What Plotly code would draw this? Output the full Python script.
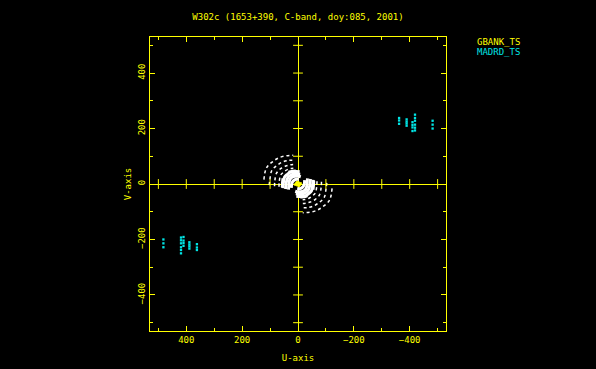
import plotly.graph_objects as go

TITLE = "W302c (1653+390, C-band, doy:085, 2001)"
X_LABEL = "U-axis"
Y_LABEL = "V-axis"
AX_RANGE = 530
MAJOR_TICKS = [-400, -200, 0, 200, 400]
ZERO_LINE_TICKS = [-500, -400, -300, -200, -100, 100, 200, 300, 400, 500]

# Dotted outer arcs of ground baselines (u, v), conjugates added by sign flip
arc1_u = [122, 113, 89, 65, 41, 17]
arc1_v = [16, 58, 82, 96, 102, 104]
arc2_u = [103, 101, 94, 74, 54, 34, 14]
arc2_v = [-4, 13, 48, 68, 80, 85, 86]
arc3_u = [84, 83, 77, 61, 44, 28, 12]
arc3_v = [-8, 11, 39, 56, 65, 69, 71]
arc4_u = [68, 67, 62, 49, 36, 23, 9]
arc4_v = [-10, 9, 32, 45, 53, 56, 57]
# Dashed arc
arc5_u = [58, 57, 53, 42, 31, 19, 8]
arc5_v = [-12, 8, 27, 39, 45, 48, 49]
# Dense inner arcs
core1_u = [55, 52, 48, 38, 28, 18, 6, -6]
core1_v = [-15, 6, 25, 35, 42, 44, 45, 44]
core2_u = [45, 42, 38, 30, 22, 14, 4, -8]
core2_v = [-18, 5, 20, 29, 34, 36, 36, 35]
core3_u = [34, 32, 29, 23, 16, 8, -2, -10]
core3_v = [-20, 4, 16, 23, 27, 28, 28, 26]
core4_u = [24, 22, 18, 12, 5, -3]
core4_v = [-14, 2, 10, 15, 17, 17]

# GBANK_TS points near origin
gbank_u = [5, 9, 3, -2, 7]
gbank_v = [3, -2, 6, 4, 0]

# MADRD_TS points (one half; conjugates added)
madrd_u = [-362, -362, -362,
           -389, -389, -389, -389,
           -410, -410, -410, -410,
           -419, -419, -419, -419, -419, -419,
           -482, -482, -482]
madrd_v = [238, 229, 217,
           233, 225, 218, 210,
           223, 213, 204, 191,
           250, 238, 228, 214, 203, 193,
           228, 214, 200]

YELLOW = "#ffff00"
CYAN = "#00e5e5"
FONT = "DejaVu Sans Mono"
FS = 9

fig = go.Figure()

dotted_arcs = [(arc1_u, arc1_v), (arc2_u, arc2_v), (arc3_u, arc3_v),
               (arc4_u, arc4_v)]
core_arcs = [(core1_u, core1_v), (core2_u, core2_v), (core3_u, core3_v),
             (core4_u, core4_v)]

for us, vs in dotted_arcs:
    for sgn in (1, -1):
        fig.add_trace(go.Scatter(
            x=[sgn * u for u in us], y=[sgn * v for v in vs], mode="lines",
            line=dict(color="white", width=1.5, dash="dot", shape="spline"),
            showlegend=False, hoverinfo="skip"))
for sgn in (1, -1):
    fig.add_trace(go.Scatter(
        x=[sgn * u for u in arc5_u], y=[sgn * v for v in arc5_v], mode="lines",
        line=dict(color="white", width=2, dash="dash", shape="spline"),
        showlegend=False, hoverinfo="skip"))
for us, vs in core_arcs:
    for sgn in (1, -1):
        fig.add_trace(go.Scatter(
            x=[sgn * u for u in us], y=[sgn * v for v in vs], mode="lines",
            line=dict(color="white", width=3, shape="spline"),
            showlegend=False, hoverinfo="skip"))

fig.add_trace(go.Scatter(
    x=madrd_u + [-u for u in madrd_u], y=madrd_v + [-v for v in madrd_v],
    mode="markers", marker=dict(color=CYAN, size=2.3, symbol="square",
                                line=dict(width=0)),
    showlegend=False, hoverinfo="skip"))

fig.add_trace(go.Scatter(
    x=gbank_u + [-u for u in gbank_u], y=gbank_v + [-v for v in gbank_v],
    mode="markers", marker=dict(color=YELLOW, size=2.5, symbol="square",
                                line=dict(width=0)),
    showlegend=False, hoverinfo="skip"))

# small ticks on the zero lines
fig.add_trace(go.Scatter(
    x=ZERO_LINE_TICKS, y=[0] * len(ZERO_LINE_TICKS), mode="markers",
    marker=dict(symbol="line-ns", size=7, line=dict(color=YELLOW, width=1)),
    showlegend=False, hoverinfo="skip"))
fig.add_trace(go.Scatter(
    x=[0] * len(ZERO_LINE_TICKS), y=ZERO_LINE_TICKS, mode="markers",
    marker=dict(symbol="line-ew", size=7, line=dict(color=YELLOW, width=1)),
    showlegend=False, hoverinfo="skip"))

axis_common = dict(
    showgrid=False, zeroline=True, zerolinecolor=YELLOW, zerolinewidth=1,
    showline=True, linecolor=YELLOW, linewidth=1, mirror="ticks",
    ticks="inside", ticklen=5, tickcolor=YELLOW, tickwidth=1,
    tickvals=MAJOR_TICKS, automargin=False,
    minor=dict(ticks="inside", ticklen=3, tickcolor=YELLOW, dtick=100,
               tick0=0, showgrid=False),
    tickfont=dict(family=FONT, size=FS, color=YELLOW),
    title_font=dict(family=FONT, size=FS, color=YELLOW),
)

fig.update_xaxes(range=[AX_RANGE, -AX_RANGE], title_text=X_LABEL,
                 title_standoff=10, ticklabelstandoff=0, **axis_common)
fig.update_yaxes(range=[-AX_RANGE, AX_RANGE], title_text=Y_LABEL,
                 tickangle=-90, title_standoff=4, **axis_common)

fig.update_layout(
    width=596, height=369, autosize=False,
    paper_bgcolor="black", plot_bgcolor="black",
    margin=dict(l=150, r=150, t=37, b=38),
    title=dict(text=TITLE, x=0.5, xanchor="center", y=1 - 16.5 / 369,
               yanchor="middle", font=dict(family=FONT, size=FS, color=YELLOW),
               automargin=False),
    annotations=[
        dict(text="GBANK_TS", xref="paper", yref="paper", x=1.098, y=0.984,
             xanchor="left", yanchor="middle", showarrow=False,
             font=dict(family=FONT, size=FS, color=YELLOW)),
        dict(text="MADRD_TS", xref="paper", yref="paper", x=1.098, y=0.948,
             xanchor="left", yanchor="middle", showarrow=False,
             font=dict(family=FONT, size=FS, color=CYAN)),
    ],
)

fig.write_html(
    "out.html",
    config={"displayModeBar": False},
    post_script="document.body.style.margin='0';"
                "document.body.style.background='black';",
)
